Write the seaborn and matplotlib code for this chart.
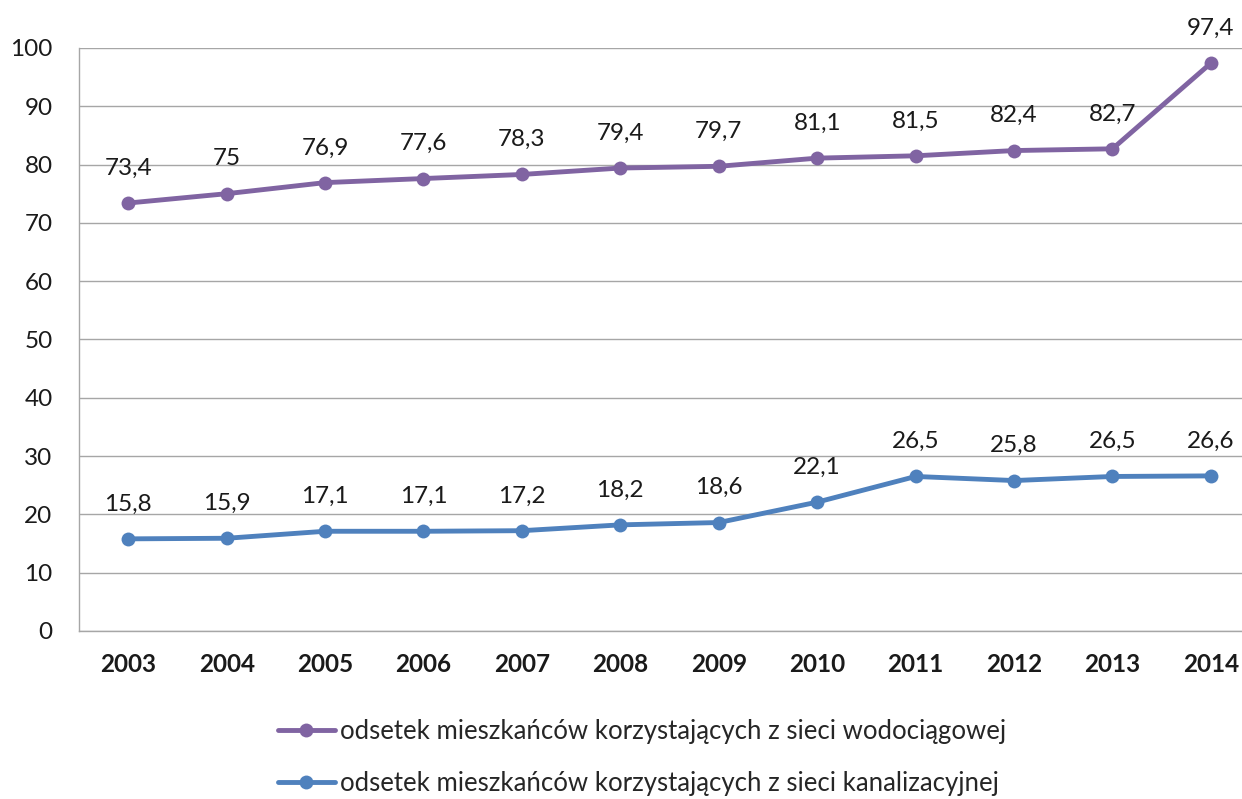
import matplotlib
matplotlib.use("Agg")
import matplotlib.pyplot as plt
import seaborn as sns
import pandas as pd

# Data
years = ["2003", "2004", "2005", "2006", "2007", "2008", "2009", "2010", "2011", "2012", "2013", "2014"]
water = [73.4, 75, 76.9, 77.6, 78.3, 79.4, 79.7, 81.1, 81.5, 82.4, 82.7, 97.4]
sewer = [15.8, 15.9, 17.1, 17.1, 17.2, 18.2, 18.6, 22.1, 26.5, 25.8, 26.5, 26.6]
water_label = "odsetek mieszkańców korzystających z sieci wodociągowej"
sewer_label = "odsetek mieszkańców korzystających z sieci kanalizacyjnej"

sns.set_style("white")
plt.rcParams['font.family'] = ['Lato', 'DejaVu Sans']

df = pd.DataFrame({"year": years, "water": water, "sewer": sewer})

fig = plt.figure(figsize=(12.42, 7.99), dpi=100)
ax = fig.add_axes([0.0636, 0.2103, 0.951, 0.7297])

purple = "#8064A2"
blue = "#4F81BD"
sns.lineplot(x="year", y="water", data=df, ax=ax, color=purple, linewidth=3.5,
             marker='o', markersize=10, markeredgewidth=0, label=water_label, sort=False)
sns.lineplot(x="year", y="sewer", data=df, ax=ax, color=blue, linewidth=3.5,
             marker='o', markersize=10, markeredgewidth=0, label=sewer_label, sort=False)

# Data labels above each point
def fmt(v):
    s = ("%g" % v)
    return s.replace('.', ',')

for i, v in enumerate(water):
    ax.annotate(fmt(v), (i, v), xytext=(0, 25), textcoords="offset points",
                ha='center', va='center', fontsize=17.5, color='#1a1a1a')
for i, v in enumerate(sewer):
    ax.annotate(fmt(v), (i, v), xytext=(0, 25), textcoords="offset points",
                ha='center', va='center', fontsize=17.5, color='#1a1a1a')

ax.set_xlim(-0.5, 11.5)
ax.set_ylim(0, 100)
ax.set_yticks(range(0, 101, 10))
ax.yaxis.grid(True, color='#A6A6A6', linewidth=1)
ax.set_axisbelow(True)
ax.set_xlabel("")
ax.set_ylabel("")
ax.tick_params(axis='both', length=0, colors='#1a1a1a')
ax.tick_params(axis='y', labelsize=17.5, pad=19)
ax.tick_params(axis='x', labelsize=17.5, pad=16)
for lbl in ax.get_xticklabels():
    lbl.set_fontweight('bold')

for side in ['top', 'right']:
    ax.spines[side].set_visible(False)
for side in ['left', 'bottom']:
    ax.spines[side].set_color('#A6A6A6')
    ax.spines[side].set_linewidth(1)

ax.get_legend().remove()
handles, labels = ax.get_legend_handles_labels()
fig.legend(handles, labels, loc='upper left', bbox_to_anchor=(0.224, 0.1),
           frameon=False, fontsize=18.5, handlelength=2.2, handletextpad=0.2,
           labelspacing=1.05, borderaxespad=0, borderpad=0)

fig.savefig("out.png", dpi=100)
